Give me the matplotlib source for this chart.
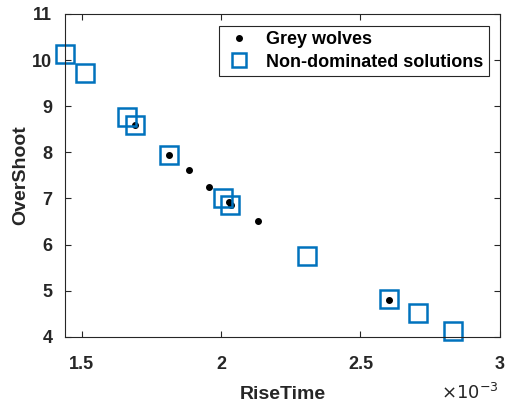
import matplotlib.pyplot as plt
from matplotlib.ticker import FuncFormatter

plt.rcParams['font.family'] = ['Liberation Sans', 'DejaVu Sans']

# rise time (s) and overshoot of every wolf in the final pack
wolf_rise = [1.693e-3, 1.812e-3, 1.884e-3, 1.958e-3, 2.030e-3, 2.036e-3, 2.133e-3, 2.601e-3]
wolf_over = [8.60, 7.94, 7.62, 7.24, 6.92, 6.85, 6.51, 4.80]

# archive of non-dominated solutions
nd_rise = [1.440e-3, 1.512e-3, 1.663e-3, 1.690e-3, 1.812e-3, 2.006e-3, 2.033e-3,
           2.308e-3, 2.601e-3, 2.705e-3, 2.830e-3]
nd_over = [10.14, 9.71, 8.77, 8.59, 7.94, 7.00, 6.85, 5.75, 4.82, 4.52, 4.13]

xticks = [1.5e-3, 2.0e-3, 2.5e-3, 3.0e-3]
yticks = [4, 5, 6, 7, 8, 9, 10, 11]

fig = plt.figure(figsize=(5.06, 4.07), dpi=100)
ax = fig.add_axes([0.128, 0.172, 0.860, 0.794])

ax.plot(wolf_rise, wolf_over, 'k.', markersize=8, label='Grey wolves', clip_on=False)
ax.plot(nd_rise, nd_over, 's', markersize=13, markerfacecolor='none',
        markeredgecolor='#0072BD', markeredgewidth=1.8, linestyle='none',
        label='Non-dominated solutions', clip_on=False)

ax.set_xlim(1.44e-3, 3.0e-3)
ax.set_ylim(4, 11)
ax.set_xticks(xticks)
ax.set_yticks(yticks)
ax.xaxis.set_major_formatter(FuncFormatter(lambda v, p: ('%g' % round(v * 1e3, 3))))

edge = '#262626'
for s in ax.spines.values():
    s.set_color(edge)
    s.set_linewidth(0.8)
ax.tick_params(direction='in', top=True, right=True, length=4, width=0.8,
               colors=edge, labelsize=13)
for lab in ax.get_xticklabels() + ax.get_yticklabels():
    lab.set_fontweight('bold')
ax.tick_params(axis='x', pad=14)
ax.tick_params(axis='y', pad=9)

ax.set_xlabel('RiseTime', fontsize=14, fontweight='bold', color=edge, labelpad=9)
ax.set_ylabel('OverShoot', fontsize=14, fontweight='bold', color=edge, labelpad=2)
fig.text(0.929, 0.034, r'$\times10^{-3}$', fontsize=13, color=edge,
         ha='center', va='center')

leg = ax.legend(loc='upper right', prop={'weight': 'bold', 'size': 13},
                fancybox=False, edgecolor=edge, framealpha=1,
                handlelength=1.6, handletextpad=0.7, borderpad=0.3,
                labelspacing=0.3, borderaxespad=0,
                bbox_to_anchor=(0.975, 0.963))
leg.get_frame().set_linewidth(0.8)
leg.legend_handles[1].set_markersize(10)

fig.savefig('out.png', dpi=100)
